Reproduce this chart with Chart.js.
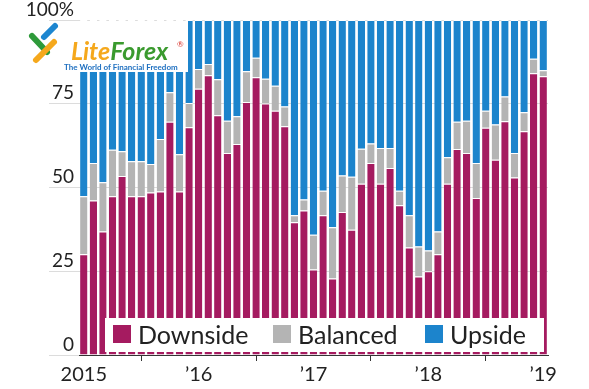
<!DOCTYPE html>
<html>
<head>
<meta charset="utf-8">
<script src="https://cdn.jsdelivr.net/npm/chart.js@4"></script>
<style>
html, body { margin: 0; padding: 0; background: #fff; }
#wrap { width: 589px; height: 389px; position: relative; }
</style>
</head>
<body>
<div id="wrap"><canvas id="chart"></canvas></div>
<script>
// monthly readings, Jan 2015 - Jan 2019
const months = [
    '2015-01', '2015-02', '2015-03', '2015-04', '2015-05', '2015-06', '2015-07', '2015-08', '2015-09', '2015-10', '2015-11', '2015-12',
    '2016-01', '2016-02', '2016-03', '2016-04', '2016-05', '2016-06', '2016-07', '2016-08', '2016-09', '2016-10', '2016-11', '2016-12',
    '2017-01', '2017-02', '2017-03', '2017-04', '2017-05', '2017-06', '2017-07', '2017-08', '2017-09', '2017-10', '2017-11', '2017-12',
    '2018-01', '2018-02', '2018-03', '2018-04', '2018-05', '2018-06', '2018-07', '2018-08', '2018-09', '2018-10', '2018-11', '2018-12',
    '2019-01'
];
const downside = [
    30.1, 46.1, 36.9, 47.4, 53.4, 47.4, 47.4, 48.5, 48.8, 69.6, 48.8, 68.0,
    79.5, 83.5, 71.6, 60.3, 63.0, 75.5, 82.9, 75.1, 72.9, 68.3, 39.6, 43.1,
    25.5, 41.7, 22.8, 42.7, 37.4, 51.1, 57.3, 51.1, 55.8, 44.7, 32.1, 23.4,
    25.0, 30.1, 51.1, 61.5, 60.3, 46.9, 67.8, 58.3, 69.8, 53.0, 66.8, 84.1,
    83.2
];
const balanced = [
    17.3, 11.2, 14.7, 13.9, 7.4, 10.4, 10.4, 8.5, 15.7, 8.8, 11.1, 7.2,
    5.9, 3.4, 10.7, 9.6, 8.3, 9.2, 5.8, 7.4, 7.5, 5.9, 2.1, 3.3,
    10.4, 7.3, 15.3, 10.9, 15.8, 10.5, 5.8, 10.7, 6.0, 4.3, 9.6, 9.0,
    6.2, 6.8, 7.9, 8.1, 9.6, 10.4, 5.1, 10.5, 7.4, 7.3, 5.7, 4.3,
    1.8
];
const upside = [
    52.6, 42.7, 48.4, 38.7, 39.2, 42.2, 42.2, 43.0, 35.5, 21.6, 40.1, 24.8,
    14.6, 13.1, 17.7, 30.1, 28.7, 15.3, 11.3, 17.5, 19.6, 25.8, 58.3, 53.6,
    64.1, 51.0, 61.9, 46.4, 46.8, 38.4, 36.9, 38.2, 38.2, 51.0, 58.3, 67.6,
    68.8, 63.1, 41.0, 30.4, 30.1, 42.7, 27.1, 31.2, 22.8, 39.7, 27.5, 11.6,
    15.0
];
const yearLabels = ['2015', '\u201916', '\u201917', '\u201918', '\u201919'];
const yTickValues = [100, 75, 50, 25, 0];
const yTickLabels = ['100%', '75', '50', '25', '0'];

const colors = {
    downside: '#a51b60',
    balanced: '#b4b4b4',
    upside: '#1c84cc'
};
const FONT = 'Lato, "Open Sans", sans-serif';

const segmentBorder = { top: 1, right: 0, bottom: 0, left: 0 };

// legend box sitting over the bars, plus the y labels and the logo
const overlayPlugin = {
    id: 'overlay',
    afterDatasetsDraw(chart) {
        const ctx = chart.ctx;
        ctx.save();
        ctx.fillStyle = '#fff';
        ctx.fillRect(105, 318, 439, 34);
        const items = [
            { label: 'Downside', color: colors.downside, x: 113 },
            { label: 'Balanced', color: colors.balanced, x: 273 },
            { label: 'Upside', color: colors.upside, x: 425 }
        ];
        ctx.font = '25px ' + FONT;
        ctx.textBaseline = 'alphabetic';
        items.forEach(item => {
            ctx.fillStyle = item.color;
            ctx.fillRect(item.x, 325, 18, 18);
            ctx.fillStyle = '#222';
            ctx.fillText(item.label, item.x + 25, 344);
        });
        ctx.restore();
    },
    afterDraw(chart) {
        const ctx = chart.ctx;
        const y = chart.scales.y;
        ctx.save();
        ctx.font = '19px ' + FONT;
        ctx.fillStyle = '#222';
        ctx.textAlign = 'right';
        ctx.textBaseline = 'bottom';
        yTickValues.forEach((v, i) => {
            ctx.fillText(yTickLabels[i], 74, y.getPixelForValue(v) - 1);
        });

        // logo watermark
        ctx.fillStyle = '#fff';
        ctx.fillRect(20, 21, 168, 51);
        ctx.lineCap = 'round';
        ctx.lineWidth = 6;
        ctx.strokeStyle = '#2e9a3a';
        ctx.beginPath(); ctx.moveTo(32, 36); ctx.lineTo(47, 52); ctx.stroke();
        ctx.strokeStyle = '#1d86d0';
        ctx.beginPath(); ctx.moveTo(44, 37); ctx.lineTo(55, 26); ctx.stroke();
        ctx.strokeStyle = '#f5a81c';
        ctx.beginPath(); ctx.moveTo(36, 60); ctx.lineTo(54, 42); ctx.stroke();
        ctx.textAlign = 'left';
        ctx.textBaseline = 'alphabetic';
        ctx.font = 'italic bold 25px ' + FONT;
        ctx.fillStyle = '#f5a81c';
        ctx.fillText('Lite', 71, 60);
        const w = ctx.measureText('Lite').width;
        ctx.fillStyle = '#3a9a2e';
        ctx.fillText('Forex', 71 + w, 60);
        ctx.fillStyle = '#d8342c';
        ctx.font = '8px ' + FONT;
        ctx.fillText('\u00ae', 177, 47);
        ctx.fillStyle = '#1d6fc0';
        ctx.font = 'bold 8px ' + FONT;
        ctx.fillText('The World of Financial Freedom', 64, 70);
        ctx.restore();
    }
};

new Chart(document.getElementById('chart'), {
    type: 'bar',
    data: {
        labels: months,
        datasets: [
            { label: 'Downside', data: downside, backgroundColor: colors.downside },
            { label: 'Balanced', data: balanced, backgroundColor: colors.balanced },
            { label: 'Upside', data: upside, backgroundColor: colors.upside }
        ].map(ds => Object.assign(ds, {
            borderColor: '#fff',
            borderWidth: segmentBorder,
            borderSkipped: false,
            barPercentage: 0.77,
            categoryPercentage: 1
        }))
    },
    options: {
        responsive: true,
        maintainAspectRatio: false,
        animation: false,
        layout: { padding: { top: 20, right: 41, bottom: 0, left: 0 } },
        plugins: {
            legend: { display: false },
            tooltip: { enabled: false }
        },
        scales: {
            x: {
                stacked: true,
                afterFit: (axis) => { axis.height = 34; },
                afterBuildTicks: (axis) => {
                    axis.ticks = axis.ticks.filter(t => t.value % 12 === 0);
                },
                grid: {
                    display: true,
                    drawOnChartArea: false,
                    drawTicks: true,
                    tickLength: 6,
                    color: '#333',
                    lineWidth: 1
                },
                border: { display: true, color: '#333', width: 1 },
                ticks: {
                    autoSkip: false,
                    maxRotation: 0,
                    padding: 2,
                    color: '#222',
                    font: { family: FONT, size: 20 },
                    callback: (value) => yearLabels[value / 12]
                }
            },
            y: {
                stacked: true,
                min: 0,
                max: 100,
                afterFit: (axis) => { axis.width = 79; },
                afterBuildTicks: (axis) => {
                    axis.ticks = yTickValues.map(v => ({ value: v }));
                },
                grid: {
                    color: '#dcdcdc',
                    lineWidth: 1,
                    drawTicks: true,
                    tickLength: 30
                },
                border: { display: false },
                ticks: { display: false }
            }
        }
    },
    plugins: [overlayPlugin]
});
</script>
</body>
</html>
